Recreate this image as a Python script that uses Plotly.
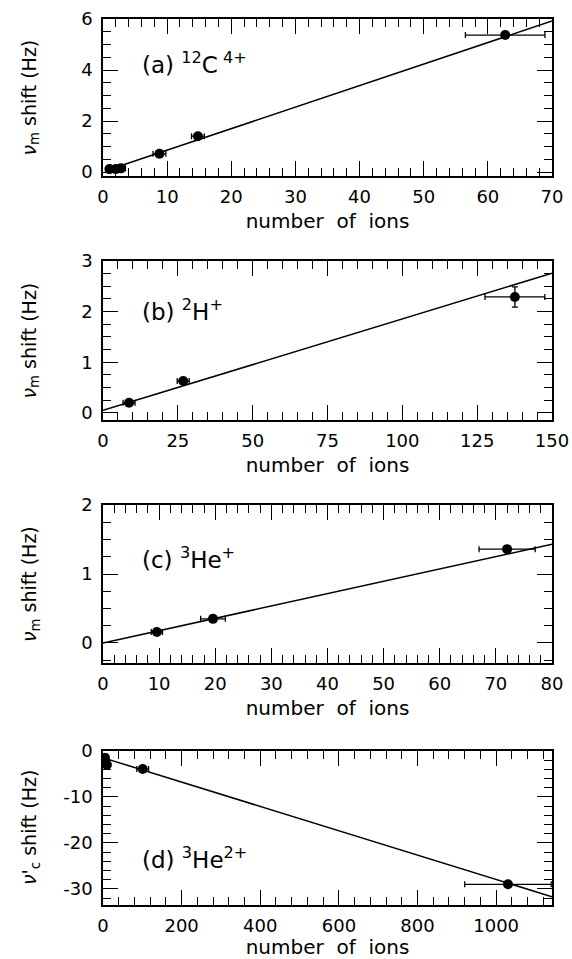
import plotly.graph_objects as go

# ---- data ----
a_x = [1.0, 2.0, 2.8, 8.8, 14.8, 62.7]
a_y = [0.12, 0.12, 0.15, 0.72, 1.41, 5.37]
a_xerr = [0.5, 0.5, 0.7, 1.0, 1.0, 6.2]
a_yerr = [0.06, 0.06, 0.06, 0.06, 0.1, 0.12]
a_fit_x = [2.5, 70]
a_fit_y = [0.23, 5.92]

b_x = [8.7, 26.8, 137.6]
b_y = [0.20, 0.63, 2.29]
b_xerr = [2.0, 2.0, 10.0]
b_yerr = [0.05, 0.05, 0.2]
b_fit_x = [0, 150]
b_fit_y = [0.05, 2.76]

c_x = [9.6, 19.6, 72.0]
c_y = [0.16, 0.35, 1.36]
c_xerr = [1.0, 2.2, 5.0]
c_yerr = [0.03, 0.03, 0.05]
c_fit_x = [0, 80]
c_fit_y = [0.0, 1.43]

d_x = [5, 10, 101, 1030]
d_y = [-1.5, -3.0, -3.9, -29.0]
d_xerr = [3, 3, 15, 110]
d_yerr = [0.8, 0.8, 0.5, 0.5]
d_fit_x = [5, 1142]
d_fit_y = [-1.6, -31.7]

a_yticks = [0, 2, 4, 6]
b_yticks = [0, 1, 2, 3]
c_yticks = [0, 1, 2]
d_yticks = [0, -10, -20, -30]
d_yticktext = ["0", "-10", "-20", "-30"]
a_xticks = [0, 10, 20, 30, 40, 50, 60, 70]
b_xticks = [0, 25, 50, 75, 100, 125, 150]
c_xticks = [0, 10, 20, 30, 40, 50, 60, 70, 80]
d_xticks = [0, 200, 400, 600, 800, 1000]

labels = ["(a) <sup>12</sup>C<sup> 4+</sup>", "(b) <sup>2</sup>H<sup>+</sup>",
          "(c) <sup>3</sup>He<sup>+</sup>", "(d) <sup>3</sup>He<sup>2+</sup>"]
ytitles = ["<i>ν</i><sub>m</sub> shift (Hz)", "<i>ν</i><sub>m</sub> shift (Hz)",
           "<i>ν</i><sub>m</sub> shift (Hz)", "<i>ν</i>'<sub>c</sub> shift (Hz)"]
xtitle = "number  of  ions"

FONT = "DejaVu Sans"
W, H = 572, 959

panels = [
    dict(x=a_x, y=a_y, xe=a_xerr, ye=a_yerr, fx=a_fit_x, fy=a_fit_y,
         xr=[0, 70], yr=[-0.15, 6], xt=a_xticks, yt=a_yticks, ytt=None,
         xminor=2, yminor=0.5, top=19, bot=176, lab_y=63),
    dict(x=b_x, y=b_y, xe=b_xerr, ye=b_yerr, fx=b_fit_x, fy=b_fit_y,
         xr=[0, 150], yr=[-0.14, 3], xt=b_xticks, yt=b_yticks, ytt=None,
         xminor=5, yminor=0.25, top=261, bot=420, lab_y=310),
    dict(x=c_x, y=c_y, xe=c_xerr, ye=c_yerr, fx=c_fit_x, fy=c_fit_y,
         xr=[0, 80], yr=[-0.29, 2], xt=c_xticks, yt=c_yticks, ytt=None,
         xminor=2, yminor=0.25, top=505, bot=663, lab_y=558),
    dict(x=d_x, y=d_y, xe=d_xerr, ye=d_yerr, fx=d_fit_x, fy=d_fit_y,
         xr=[0, 1142], yr=[-33.5, 0], xt=d_xticks, yt=d_yticks, ytt=d_yticktext,
         xminor=40, yminor=2, top=751, bot=905, lab_y=858),
]

fig = go.Figure()
layout = {}
annotations = []
L, R = 103, 552

for i, p in enumerate(panels):
    n = "" if i == 0 else str(i + 1)
    xa, ya = "x" + n, "y" + n
    fig.add_trace(go.Scatter(x=p["fx"], y=p["fy"], mode="lines",
                             line=dict(color="black", width=1.5),
                             xaxis=xa, yaxis=ya, showlegend=False))
    fig.add_trace(go.Scatter(x=p["x"], y=p["y"], mode="markers",
                             marker=dict(color="black", size=10, symbol="circle"),
                             error_x=dict(type="data", array=p["xe"], color="black",
                                          thickness=1.3, width=3),
                             error_y=dict(type="data", array=p["ye"], color="black",
                                          thickness=1.3, width=3),
                             xaxis=xa, yaxis=ya, showlegend=False))
    common = dict(showline=True, linecolor="black", linewidth=1.6, mirror="allticks",
                  ticks="inside", ticklen=15, tickwidth=1.4, tickcolor="black",
                  showgrid=False, zeroline=False, automargin=False,
                  tickfont=dict(family=FONT, size=18, color="black"))
    layout["xaxis" + n] = dict(common, domain=[L / W, R / W], range=p["xr"],
                               anchor=ya, tickvals=p["xt"], ticklabelstandoff=4,
                               minor=dict(dtick=p["xminor"], ticks="inside", ticklen=8,
                                          tickwidth=1.3, tickcolor="black", showgrid=False),
                               title=dict(text=xtitle, standoff=8,
                                          font=dict(family=FONT, size=20, color="black")))
    yax = dict(common, domain=[1 - p["bot"] / H, 1 - p["top"] / H], range=p["yr"],
               anchor=xa, tickvals=p["yt"], ticklabelstandoff=5,
               minor=dict(dtick=p["yminor"], ticks="inside", ticklen=8,
                          tickwidth=1.3, tickcolor="black", showgrid=False))
    if p["ytt"] is not None:
        yax["ticktext"] = p["ytt"]
    layout["yaxis" + n] = yax
    annotations.append(dict(text=labels[i], xref="paper", yref="paper",
                            x=140 / W, y=1 - p["lab_y"] / H, xanchor="left", yanchor="middle",
                            showarrow=False, font=dict(family=FONT, size=23, color="black")))
    annotations.append(dict(text=ytitles[i], xref="paper", yref="paper",
                            x=30 / W, y=1 - (p["top"] + p["bot"]) / 2 / H,
                            xanchor="center", yanchor="middle", textangle=-90,
                            showarrow=False, font=dict(family=FONT, size=19, color="black")))

fig.update_layout(**layout)
fig.update_layout(width=W, height=H, margin=dict(l=0, r=0, t=0, b=0),
                  paper_bgcolor="white", plot_bgcolor="white",
                  annotations=annotations, showlegend=False)
fig.write_html("out.html")
